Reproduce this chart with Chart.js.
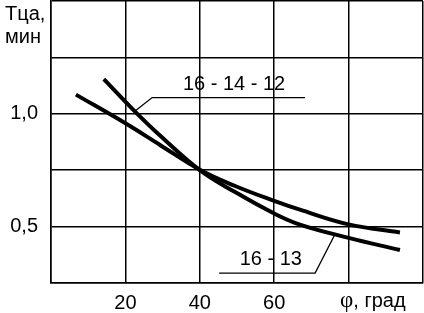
<!DOCTYPE html>
<html>
<head>
<meta charset="utf-8">
<script src="https://cdn.jsdelivr.net/npm/chart.js@4/dist/chart.umd.min.js"></script>
<style>
  html, body { margin: 0; padding: 0; background: #fff; }
  canvas { display: block; }
</style>
</head>
<body>
<canvas id="chart" width="424" height="313"></canvas>
<script>
// curve "16 - 14 - 12" (steeper)
const angleA = [14.2, 22.6, 29.3, 40, 49.5, 60, 66.9, 80, 93.8]
const timeA = [1.154, 1.01, 0.904, 0.75, 0.653, 0.558, 0.509, 0.450, 0.396]
// curve "16 - 13" (flatter)
const angleB = [6.7, 20, 29.3, 40, 49.5, 60, 66.9, 80, 93.8]
const timeB = [1.085, 0.958, 0.862, 0.752, 0.680, 0.614, 0.575, 0.510, 0.474]

const xLabels = { 20: '20', 40: '40', 60: '60' }
const yLabels = { 1: '1,0', 0.5: '0,5' }

const FONT = '"Liberation Sans", Arial, sans-serif'

// callouts given in data units
const callouts = [
  { text: '16 - 14 - 12', at: [49.2, 1.129], line: [[22.6, 1.012], [27.2, 1.072], [68.3, 1.072]] },
  { text: '16 - 13', at: [59.1, 0.356], line: [[45.2, 0.294], [71.0, 0.294], [76.1, 0.458]] }
]

const toPoints = (xs, ys) => xs.map((x, i) => ({ x, y: ys[i] }))

const annotate = {
  id: 'annotate',
  afterDatasetsDraw (chart) {
    const { ctx, scales: { x, y } } = chart
    ctx.save()
    ctx.fillStyle = '#000'
    ctx.strokeStyle = '#000'
    ctx.lineWidth = 1.3
    callouts.forEach(c => {
      ctx.beginPath()
      c.line.forEach((p, i) => {
        const px = x.getPixelForValue(p[0])
        const py = y.getPixelForValue(p[1])
        if (i === 0) ctx.moveTo(px, py)
        else ctx.lineTo(px, py)
      })
      ctx.stroke()
      ctx.font = '20px ' + FONT
      ctx.textAlign = 'center'
      ctx.textBaseline = 'middle'
      ctx.fillText(c.text, x.getPixelForValue(c.at[0]), y.getPixelForValue(c.at[1]))
    })
    // axis titles
    ctx.textAlign = 'left'
    ctx.textBaseline = 'alphabetic'
    ctx.font = '20px ' + FONT
    ctx.fillText('Тца,', 5, 20)
    ctx.fillText('мин', 5, 43)
    ctx.font = '23px "Liberation Serif", serif'
    ctx.fillText('φ', 340, 307)
    const w = ctx.measureText('φ').width
    ctx.font = '20px ' + FONT
    ctx.fillText(', град', 340 + w, 307)
    ctx.restore()
  }
}

new Chart(document.getElementById('chart'), {
  type: 'scatter',
  data: {
    datasets: [
      { label: '16 - 14 - 12', data: toPoints(angleA, timeA) },
      { label: '16 - 13', data: toPoints(angleB, timeB) }
    ]
  },
  options: {
    responsive: false,
    animation: false,
    devicePixelRatio: 1,
    layout: { padding: { top: 1, right: 1, left: 0, bottom: 0 } },
    showLine: true,
    elements: {
      line: { borderColor: '#000', borderWidth: 4, tension: 0.4, borderCapStyle: 'butt' },
      point: { radius: 0 }
    },
    plugins: { legend: { display: false }, tooltip: { enabled: false } },
    scales: {
      x: {
        type: 'linear',
        min: 0,
        max: 100,
        afterFit (s) {
          s.height = 30
          s.paddingLeft = 0
          s.paddingRight = 0
        },
        border: { display: true, color: '#000', width: 1.5 },
        grid: { color: '#000', lineWidth: 1.5, drawTicks: false },
        ticks: {
          stepSize: 20,
          autoSkip: false,
          maxRotation: 0,
          padding: 8,
          color: '#000',
          font: { family: FONT, size: 20 },
          callback: v => xLabels[v] || ''
        }
      },
      y: {
        type: 'linear',
        min: 0.25,
        max: 1.5,
        afterFit (s) {
          s.width = 51
          s.paddingTop = 0
          s.paddingBottom = 0
        },
        border: { display: true, color: '#000', width: 1.5 },
        grid: { color: '#000', lineWidth: 1.5, drawTicks: false },
        ticks: {
          stepSize: 0.25,
          autoSkip: false,
          padding: 13,
          color: '#000',
          font: { family: FONT, size: 20 },
          callback: v => yLabels[v] || ''
        }
      }
    }
  },
  plugins: [annotate]
})
</script>
</body>
</html>
